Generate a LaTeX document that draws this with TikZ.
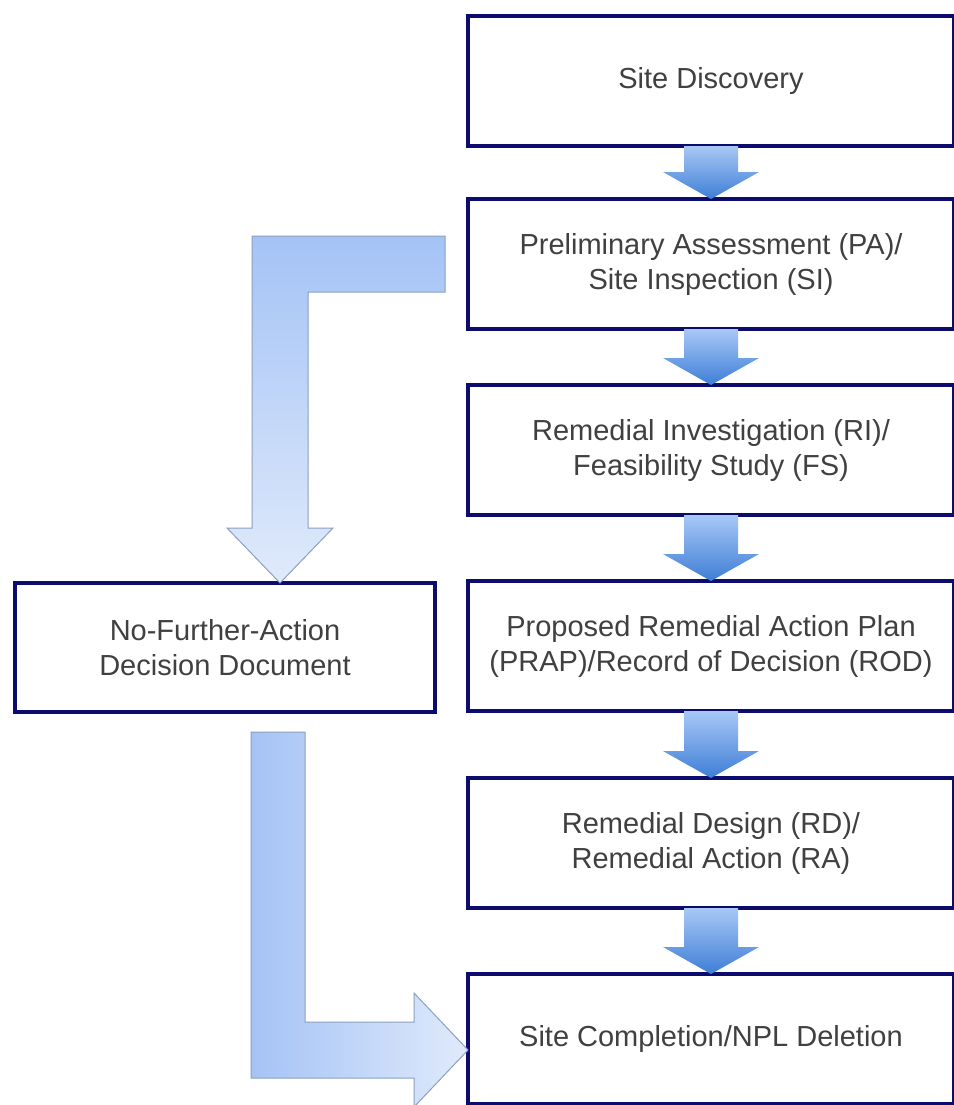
\documentclass[tikz,border=0pt]{standalone}
\usepackage{fontspec}
\setmainfont{Liberation Sans}
\usetikzlibrary{calc}
\definecolor{boxline}{RGB}{12,12,110}
\definecolor{txt}{RGB}{64,64,64}
\definecolor{arrtop}{RGB}{168,200,246}
\definecolor{arrbot}{RGB}{62,126,214}
\definecolor{bigA}{RGB}{164,195,245}
\definecolor{bigB}{RGB}{224,234,251}
\definecolor{bigline}{RGB}{140,160,192}
\tikzset{
  procbox/.style={draw=boxline, line width=4pt, fill=white, outer sep=0pt,
    minimum width=486pt, minimum height=130pt, align=center, text=txt,
    font=\fontsize{29}{35}\selectfont, inner sep=0pt},
  smallarrow/.style={top color=arrtop, bottom color=arrbot, draw=none},
  bigarrowv/.style={top color=bigA, bottom color=bigB, draw=bigline, line width=1pt},
  bigarrowh/.style={left color=bigA, right color=bigB, draw=bigline, line width=1pt}
}
\newcommand{\stepconn}[2]{%
  \path[smallarrow] ($(#1.south)+(-27,0)$) -- ($(#1.south)+(27,0)$)
    -- ($(#2.north)+(27,-27)$) -- ($(#2.north)+(48,-27)$) -- (#2.north)
    -- ($(#2.north)+(-48,-27)$) -- ($(#2.north)+(-27,-27)$) -- cycle;}
\begin{document}
\begin{tikzpicture}[x=1pt, y=-1pt]
\useasboundingbox (0,0) rectangle (953,1105);
\fill[white] (0,0) rectangle (953,1105);

\node[procbox] (sd)   at (711,81)   {Site Discovery};
\node[procbox] (pa)   at (711,264)  {Preliminary Assessment (PA)/\\Site Inspection (SI)};
\node[procbox] (ri)   at (711,450)  {Remedial Investigation (RI)/\\Feasibility Study (FS)};
\node[procbox] (prap) at (711,646)  {Proposed Remedial Action Plan\\(PRAP)/Record of Decision (ROD)};
\node[procbox] (rd)   at (711,843)  {Remedial Design (RD)/\\Remedial Action (RA)};
\node[procbox] (sc)   at (711,1039) {Site Completion/NPL Deletion};
\node[procbox, minimum width=420pt, minimum height=129pt] (nfa) at (225,647.5)
  {No-Further-Action\\Decision Document};

\stepconn{sd}{pa}
\stepconn{pa}{ri}
\stepconn{ri}{prap}
\stepconn{prap}{rd}
\stepconn{rd}{sc}

% PA/SI -> No-Further-Action
\coordinate (s1) at ($(pa.west)+(-23,0)$);
\coordinate (t1) at ($(nfa.north)+(55,0)$);
\path[bigarrowv] ($(s1)+(0,-28)$) -- ($(t1 |- s1)+(-28,-28)$) -- ($(t1)+(-28,-55)$)
  -- ($(t1)+(-53,-55)$) -- (t1) -- ($(t1)+(53,-55)$) -- ($(t1)+(28,-55)$)
  -- ($(t1 |- s1)+(28,28)$) -- ($(s1)+(0,28)$) -- cycle;

% No-Further-Action -> Site Completion
\coordinate (s2) at ($(nfa.south)+(53,20)$);
\coordinate (t2) at ($(sc.west)+(0,11)$);
\path[bigarrowh] ($(s2)+(-27,0)$) -- ($(s2)+(27,0)$) -- ($(s2 |- t2)+(27,-28)$)
  -- ($(t2)+(-54,-28)$) -- ($(t2)+(-54,-57)$) -- (t2) -- ($(t2)+(-54,57)$)
  -- ($(t2)+(-54,28)$) -- ($(s2 |- t2)+(-27,28)$) -- cycle;
\end{tikzpicture}
\end{document}
